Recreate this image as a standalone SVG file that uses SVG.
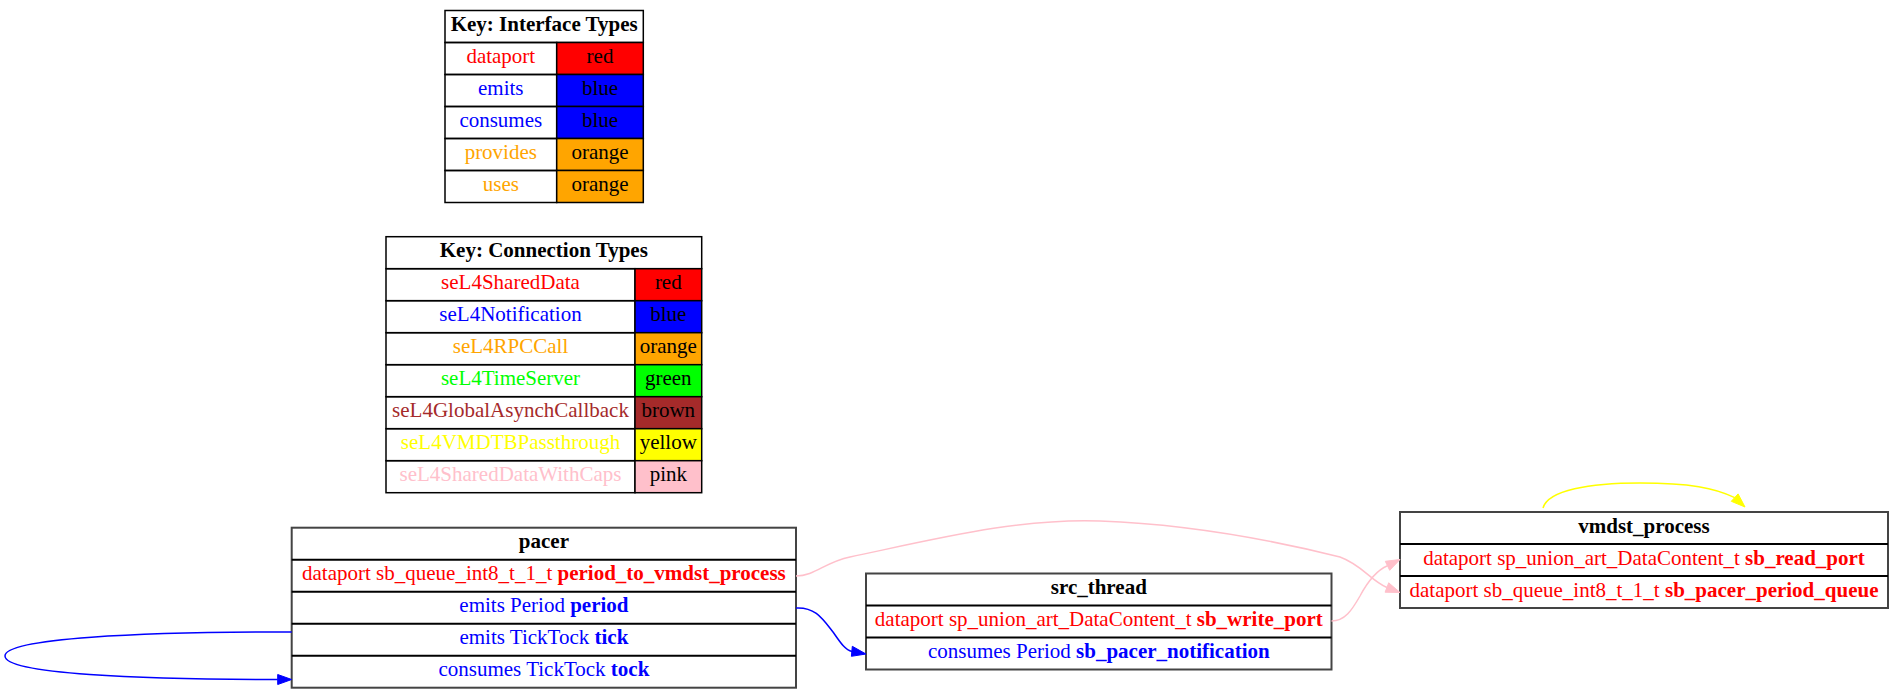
<svg xmlns="http://www.w3.org/2000/svg" width="1904" height="699" viewBox="0 0 1904 699">
<style>
text{font-family:"Liberation Serif","Times New Roman",serif;font-size:21px;text-anchor:middle}
.b{font-weight:bold}
.k{fill:none;stroke:#000;stroke-width:1.5}
.o{fill:#fff;stroke:#444;stroke-width:2}
.l{stroke:#000;stroke-width:2}
.e{fill:none;stroke-width:1.5}
.red{fill:#ff0000}.blue{fill:#0000ff}.orange{fill:#ffa500}.green{fill:#00ff00}.brown{fill:#a52a2a}.yellow{fill:#ffff00}.pink{fill:#ffc0cb}
</style>
<rect width="1904" height="699" fill="#fff"/>

<g id="key_interface">
<rect x="445" y="10.5" width="198.3" height="32" class="k" fill="#fff"/>
<text x="544.2" y="31" class="b">Key: Interface Types</text>
<rect x="445" y="42.5" width="111.7" height="32" class="k"/>
<rect x="556.7" y="42.5" width="86.6" height="32" class="k red"/>
<text x="500.8" y="63" class="red">dataport</text>
<text x="600" y="63">red</text>
<rect x="445" y="74.5" width="111.7" height="32" class="k"/>
<rect x="556.7" y="74.5" width="86.6" height="32" class="k blue"/>
<text x="500.8" y="95" class="blue">emits</text>
<text x="600" y="95">blue</text>
<rect x="445" y="106.5" width="111.7" height="32" class="k"/>
<rect x="556.7" y="106.5" width="86.6" height="32" class="k blue"/>
<text x="500.8" y="127" class="blue">consumes</text>
<text x="600" y="127">blue</text>
<rect x="445" y="138.5" width="111.7" height="32" class="k"/>
<rect x="556.7" y="138.5" width="86.6" height="32" class="k orange"/>
<text x="500.8" y="159" class="orange">provides</text>
<text x="600" y="159">orange</text>
<rect x="445" y="170.5" width="111.7" height="32" class="k"/>
<rect x="556.7" y="170.5" width="86.6" height="32" class="k orange"/>
<text x="500.8" y="191" class="orange">uses</text>
<text x="600" y="191">orange</text>
</g>

<g id="key_connection">
<rect x="386" y="236.7" width="315.7" height="32" class="k" fill="#fff"/>
<text x="543.8" y="257" class="b">Key: Connection Types</text>
<rect x="386" y="268.7" width="249" height="32" class="k"/>
<rect x="635" y="268.7" width="66.7" height="32" class="k red"/>
<text x="510.5" y="289" class="red">seL4SharedData</text>
<text x="668.3" y="289">red</text>
<rect x="386" y="300.7" width="249" height="32" class="k"/>
<rect x="635" y="300.7" width="66.7" height="32" class="k blue"/>
<text x="510.5" y="321" class="blue">seL4Notification</text>
<text x="668.3" y="321">blue</text>
<rect x="386" y="332.7" width="249" height="32" class="k"/>
<rect x="635" y="332.7" width="66.7" height="32" class="k orange"/>
<text x="510.5" y="353" class="orange">seL4RPCCall</text>
<text x="668.3" y="353">orange</text>
<rect x="386" y="364.7" width="249" height="32" class="k"/>
<rect x="635" y="364.7" width="66.7" height="32" class="k green"/>
<text x="510.5" y="385" class="green">seL4TimeServer</text>
<text x="668.3" y="385">green</text>
<rect x="386" y="396.7" width="249" height="32" class="k"/>
<rect x="635" y="396.7" width="66.7" height="32" class="k brown"/>
<text x="510.5" y="417" class="brown">seL4GlobalAsynchCallback</text>
<text x="668.3" y="417">brown</text>
<rect x="386" y="428.7" width="249" height="32" class="k"/>
<rect x="635" y="428.7" width="66.7" height="32" class="k yellow"/>
<text x="510.5" y="449" class="yellow">seL4VMDTBPassthrough</text>
<text x="668.3" y="449">yellow</text>
<rect x="386" y="460.7" width="249" height="32" class="k"/>
<rect x="635" y="460.7" width="66.7" height="32" class="k pink"/>
<text x="510.5" y="481" class="pink">seL4SharedDataWithCaps</text>
<text x="668.3" y="481">pink</text>
</g>

<g id="pacer">
<rect x="291.7" y="527.7" width="504.3" height="160" class="o"/>
<line x1="291.7" y1="559.7" x2="796" y2="559.7" class="l"/>
<line x1="291.7" y1="591.7" x2="796" y2="591.7" class="l"/>
<line x1="291.7" y1="623.7" x2="796" y2="623.7" class="l"/>
<line x1="291.7" y1="655.7" x2="796" y2="655.7" class="l"/>
<text x="543.9" y="548.3" class="b">pacer</text>
<text x="543.9" y="580.3" class="red">dataport sb_queue_int8_t_1_t <tspan class="b">period_to_vmdst_process</tspan></text>
<text x="543.9" y="612.3" class="blue">emits Period <tspan class="b">period</tspan></text>
<text x="543.9" y="644.3" class="blue">emits TickTock <tspan class="b">tick</tspan></text>
<text x="543.9" y="676.3" class="blue">consumes TickTock <tspan class="b">tock</tspan></text>
</g>

<g id="src_thread">
<rect x="866" y="573.5" width="465.5" height="96" class="o"/>
<line x1="866" y1="605.5" x2="1331.5" y2="605.5" class="l"/>
<line x1="866" y1="637.5" x2="1331.5" y2="637.5" class="l"/>
<text x="1098.8" y="594" class="b">src_thread</text>
<text x="1098.8" y="626" class="red">dataport sp_union_art_DataContent_t <tspan class="b">sb_write_port</tspan></text>
<text x="1098.8" y="658" class="blue">consumes Period <tspan class="b">sb_pacer_notification</tspan></text>
</g>

<g id="vmdst_process">
<rect x="1400" y="512" width="488" height="96" class="o"/>
<line x1="1400" y1="544" x2="1888" y2="544" class="l"/>
<line x1="1400" y1="576" x2="1888" y2="576" class="l"/>
<text x="1644" y="532.5" class="b">vmdst_process</text>
<text x="1644" y="564.5" class="red">dataport sp_union_art_DataContent_t <tspan class="b">sb_read_port</tspan></text>
<text x="1644" y="596.5" class="red">dataport sb_queue_int8_t_1_t <tspan class="b">sb_pacer_period_queue</tspan></text>
</g>

<g id="connectors">
<path class="e" stroke="#0000ff" d="M291.7,632 C140,632 5,638 5,656 C5,674 140,679.5 277.7,679.5"/>
<polygon fill="#0000ff" stroke="#0000ff" points="291.7,679.5 277.7,674.5 277.7,684.5"/>
<path class="e" stroke="#0000ff" d="M796,608 C815,607 822,618 833,632 C840,642 845,650 852,651.5"/>
<polygon fill="#0000ff" stroke="#0000ff" points="866,654 852.3,646.3 851.4,656.3"/>
<path class="e" stroke="#ffc0cb" d="M796,576 C815,576 825,562 850,557 C940,538 1020,518 1100,521 C1180,524 1260,537 1340,557 C1362,565 1370,580 1386.9,587.5"/>
<polygon fill="#ffc0cb" stroke="#ffc0cb" points="1400,592.5 1385.1,592.2 1388.7,582.8"/>
<path class="e" stroke="#ffc0cb" d="M1331.5,621 C1345,621 1352,610 1360,596 C1367,583 1375,571 1387.5,565.8"/>
<polygon fill="#ffc0cb" stroke="#ffc0cb" points="1400,559.5 1385.3,561.3 1389.7,570.3"/>
<path class="e" stroke="#ffff00" d="M1543,508 C1548,490 1590,483 1640,483 C1690,483 1715,488 1734.7,497.6"/>
<polygon fill="#ffff00" stroke="#ffff00" points="1745,507 1731.3,501.3 1738.1,493.9"/>
</g>
</svg>
